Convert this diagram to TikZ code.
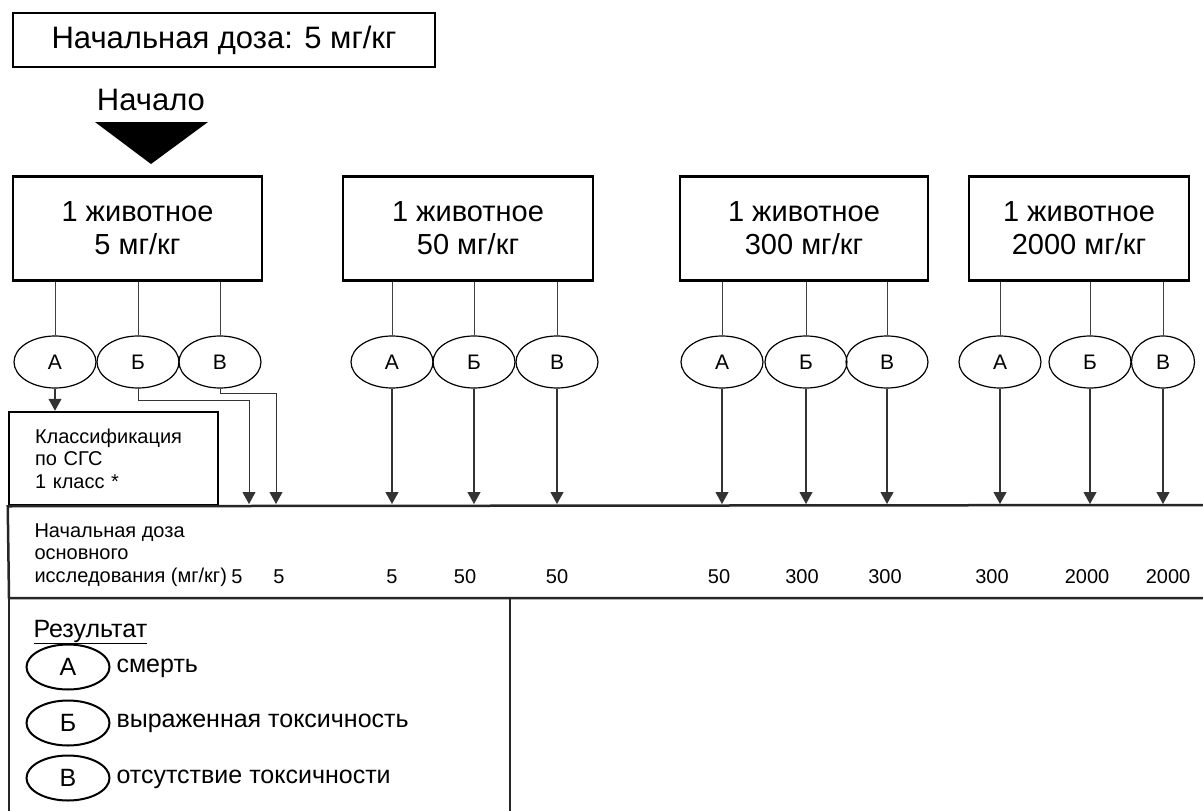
\documentclass[tikz,border=0pt]{standalone}
\usepackage{fontspec}
\setmainfont{Liberation Sans}
\usetikzlibrary{shapes.geometric,arrows.meta}

\begin{document}
\begin{tikzpicture}[x=1pt,y=-1pt,
		dosebox/.style={draw,line width=2.5pt,minimum height=104pt,align=center,inner sep=0pt,font=\fontsize{29}{33}\selectfont},
		res/.style={ellipse,draw,line width=1.2pt,minimum width=82pt,minimum height=52pt,inner sep=0pt,font=\fontsize{21}{21}\selectfont},
		key/.style={ellipse,draw,line width=2pt,minimum width=83pt,minimum height=45pt,inner sep=0pt,font=\fontsize{25}{25}\selectfont},
		link/.style={line width=0.9pt,black!75},
		arr/.style={line width=1.1pt,black!80,-{Triangle[width=13pt,length=12pt]}},
		heavy/.style={line width=2.5pt,black!85},
		small/.style={font=\fontsize{20}{22.5}\selectfont},
		big/.style={font=\fontsize{25}{25}\selectfont}]
		\useasboundingbox (0,0) rectangle (1203,811);
		% Start
		\node[draw,line width=1.2pt,minimum width=422pt,minimum height=54pt,font=\fontsize{31}{31}\selectfont] (dose) at (224,40) {Начальная доза: 5 мг/кг};
		\node[font=\fontsize{31}{31}\selectfont] (start) at (151,100) {Начало};
		\fill (95,122) -- (208,122) -- (151,164) -- cycle;
		% Boxes
		\node[dosebox,minimum width=249pt] (box1) at (137.5,228.5) {1 животное\\5 мг/кг};
		\node[dosebox,minimum width=250pt] (box2) at (468,228.5) {1 животное\\50 мг/кг};
		\node[dosebox,minimum width=248pt] (box3) at (804,228.5) {1 животное\\300 мг/кг};
		\node[dosebox,minimum width=220pt] (box4) at (1079,228.5) {1 животное\\2000 мг/кг};
		% Outcomes
		\node[res] (a1) at (55,362) {А};
		\node[res] (b1) at (138,362) {Б};
		\node[res] (v1) at (220,362) {В};
		\node[res] (a2) at (392,362) {А};
		\node[res] (b2) at (474,362) {Б};
		\node[res] (v2) at (557,362) {В};
		\node[res] (a3) at (722,362) {А};
		\node[res] (b3) at (806,362) {Б};
		\node[res] (v3) at (887,362) {В};
		\node[res] (a4) at (1000,362) {А};
		\node[res] (b4) at (1090,362) {Б};
		\node[res,minimum width=63pt] (v4) at (1163,362) {В};
		\foreach \o/\b in {a1/box1,b1/box1,v1/box1,a2/box2,b2/box2,v2/box2,a3/box3,b3/box3,v3/box3,a4/box4,b4/box4,v4/box4}
			\draw[link] (\o.north) -- (\o.north |- \b.south);
		% Classification
		\node[draw,line width=2.5pt,minimum height=93pt,text width=157pt,inner xsep=26pt,align=left,small] (klass) at (113.5,458.5) {Классификация\\по СГС\\1 класс *};
		\draw[arr] (a1.south) -- (a1.south |- klass.north);
		% Arrows
		\coordinate (band) at (0,504);
		\coordinate (bturn) at (249,400);
		\coordinate (vturn) at (276,393);
		\draw[arr,line width=0.9pt] (b1.south) |- (bturn) -- (bturn |- band);
		\draw[arr,line width=0.9pt] (v1.south) |- (vturn) -- (vturn |- band);
		\foreach \o in {a2,b2,v2,a3,b3,v3,a4,b4,v4}
			\draw[arr] (\o.south) -- (\o.south |- band);
		% Dose band
		\draw[heavy] (1203,505) -- (klass.south west) -- (9,598) -- (1203,598);
		\node[small,anchor=west,align=left] (dlabel) at (31,555) {Начальная доза\\основного\\исследования (мг/кг)};
		\node[small,anchor=base] (n1) at (237,583) {5};
		\node[small,anchor=base] (n2) at (279,583) {5};
		\node[small,anchor=base] (n3) at (392,583) {5};
		\node[small,anchor=base] (n4) at (465,583) {50};
		\node[small,anchor=base] (n5) at (557,583) {50};
		\node[small,anchor=base] (n6) at (719,583) {50};
		\node[small,anchor=base] (n7) at (802,583) {300};
		\node[small,anchor=base] (n8) at (885,583) {300};
		\node[small,anchor=base] (n9) at (992,583) {300};
		\node[small,anchor=base] (n10) at (1087,583) {2000};
		\node[small,anchor=base] (n11) at (1168,583) {2000};
		% Legend
		\draw[heavy] (9,811) -- (9,598) -- (510,598) -- (510,811);
		\node[big,anchor=base west] (restitle) at (30,637) {\underline{Результат}};
		\node[key] (ka) at (68,667) {А};
		\node[key] (kb) at (68,723) {Б};
		\node[key] (kv) at (68,778) {В};
		\node[big,anchor=base west] (kat) at (113,672) {смерть};
		\node[big,anchor=base west] (kbt) at (113,727) {выраженная токсичность};
		\node[big,anchor=base west] (kvt) at (113,783) {отсутствие токсичности};
	\end{tikzpicture}
\end{document}
